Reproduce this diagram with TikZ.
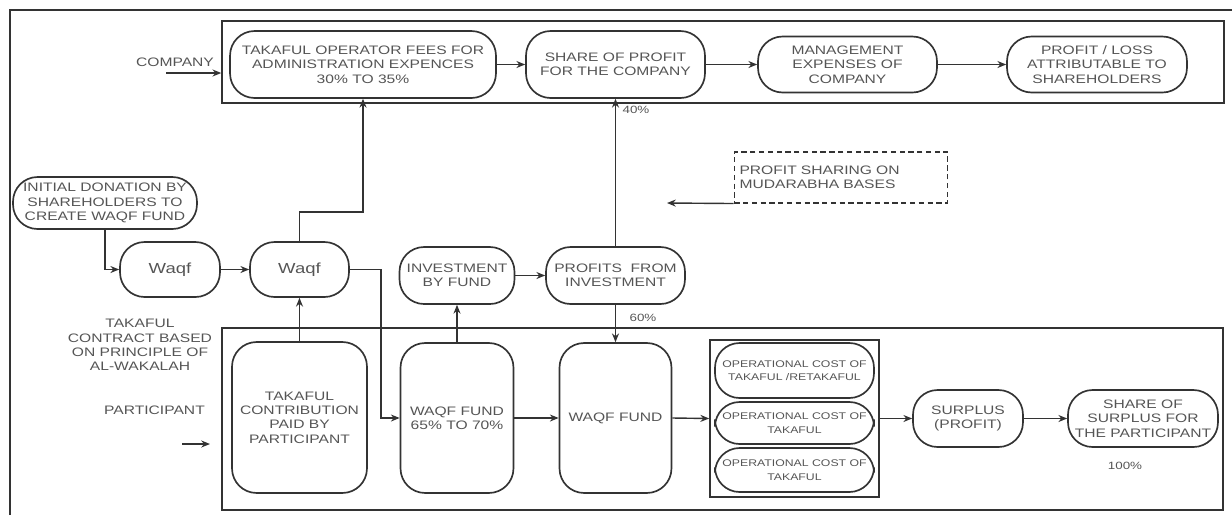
\documentclass[tikz,border=0pt]{standalone}
\usepackage{fontspec}
\setmainfont{Liberation Sans}[FakeStretch=1.27]
\usetikzlibrary{arrows.meta,positioning,calc}
\definecolor{inkgray}{HTML}{333333}
\definecolor{textgray}{HTML}{555555}
\tikzset{
  stage/.style={draw=inkgray, rounded corners=14pt, line width=0.95pt,
    align=center, inner sep=0pt, font=\fontsize{7}{8.2}\selectfont, text=textgray},
  waqf/.style={stage, font=\fontsize{8.3}{9}\selectfont},
  opcost/.style={stage, font=\fontsize{5.5}{7.6}\selectfont},
  panel/.style={draw=inkgray, line width=0.95pt, inner sep=0pt},
  dashbox/.style={draw=inkgray, densely dashed, line width=0.6pt, align=left,
    inner xsep=3pt, font=\fontsize{7}{8.2}\selectfont, text=textgray},
  frame/.style={draw=inkgray, line width=1.3pt},
  flow/.style={-{Stealth[length=5pt,width=4pt]}, line width=0.8pt, color=inkgray},
  note/.style={align=center, font=\fontsize{7}{8.2}\selectfont, text=textgray},
  pct/.style={font=\fontsize{6}{7}\selectfont, text=textgray},
}
\begin{document}
\begin{tikzpicture}[x=0.02cm,y=-0.02cm]
  \useasboundingbox (0,0) rectangle (1232,515);
  \draw[frame] (10,515) -- (10,10) -- (1232,10);

  % company lane
  \node[panel, minimum width=20.04cm, minimum height=1.64cm] (company) at (723,62) {};
  \node[stage, minimum width=5.32cm, minimum height=1.34cm] (fees) at (363,64.5)
    {TAKAFUL OPERATOR FEES FOR\\ADMINISTRATION EXPENCES\\30\% TO 35\%};
  \node[stage, minimum width=3.58cm, minimum height=1.34cm] (share) at (615.5,64.5)
    {SHARE OF PROFIT\\FOR THE COMPANY};
  \node[stage, minimum width=3.58cm, minimum height=1.12cm] (mgmt) at (847.5,64.5)
    {MANAGEMENT\\EXPENSES OF\\COMPANY};
  \node[stage, minimum width=3.6cm, minimum height=1.12cm] (ploss) at (1097,64.5)
    {PROFIT / LOSS\\ATTRIBUTABLE TO\\SHAREHOLDERS};
  \node[note] (lblcompany) at (175,62) {COMPANY};
  \coordinate (cin) at (166,73);

  % middle row
  \node[stage, minimum width=3.68cm, minimum height=1.04cm] (donation) at (105,203)
    {INITIAL DONATION BY\\SHAREHOLDERS TO\\CREATE WAQF FUND};
  \node[waqf, minimum width=2cm, minimum height=1.1cm] (waqfA) at (170,269.5) {Waqf};
  \node[waqf, minimum width=1.98cm, minimum height=1.1cm] (waqfB) at (299.5,269.5) {Waqf};
  \node[stage, minimum width=2.3cm, minimum height=1.14cm] (invest) at (457,275.5)
    {INVESTMENT\\BY FUND};
  \node[stage, minimum width=2.78cm, minimum height=1.14cm] (profits) at (615.5,275.5)
    {PROFITS~~FROM\\INVESTMENT};
  \node[dashbox, text width=4.06cm, minimum height=1.02cm] (mudara) at (841,177.5)
    {PROFIT SHARING ON\\MUDARABHA BASES};
  \coordinate (mudtip) at (667,203);
  \node[pct] (pct40) at (636,110) {40\%};
  \node[pct] (pct60) at (643,318) {60\%};

  % participant lane
  \node[panel, minimum width=20.02cm, minimum height=3.64cm] (participant) at (722.5,419) {};
  \node[note] (lblcontract) at (140,345)
    {TAKAFUL\\CONTRACT BASED\\ON PRINCIPLE OF\\AL-WAKALAH};
  \node[note, anchor=east] (lblparticipant) at (211,410) {PARTICIPANT};
  \coordinate (pin) at (182,444);
  \coordinate (ptip) at (210,444);
  \node[stage, minimum width=2.7cm, minimum height=3.02cm] (contrib) at (299.5,417.5)
    {TAKAFUL\\CONTRIBUTION\\PAID BY\\PARTICIPANT};
  \node[stage, minimum width=2.26cm, minimum height=3cm] (fund65) at (457,418)
    {WAQF FUND\\65\% TO 70\%};
  \node[stage, minimum width=2.24cm, minimum height=3cm] (fund) at (615.5,418)
    {WAQF FUND};
  \node[panel, minimum width=3.38cm, minimum height=3.14cm] (opbox) at (794.5,418.5) {};
  \node[opcost, minimum width=3.18cm, minimum height=1.1cm] (op1) at (794.5,370.5)
    {OPERATIONAL COST OF\\TAKAFUL /RETAKAFUL};
  \node[opcost, minimum width=3.18cm, minimum height=0.84cm] (op2) at (794.5,423)
    {OPERATIONAL COST OF\\TAKAFUL};
  \node[opcost, minimum width=3.18cm, minimum height=0.88cm] (op3) at (794.5,470)
    {OPERATIONAL COST OF\\TAKAFUL};
  \node[stage, minimum width=2.2cm, minimum height=1.14cm] (surplus) at (968,418.5)
    {SURPLUS\\(PROFIT)};
  \node[stage, minimum width=3cm, minimum height=1.14cm] (shareS) at (1143,418.5)
    {SHARE OF\\SURPLUS FOR\\THE PARTICIPANT};
  \node[pct] (pct100) at (1125,466) {100\%};

  % connectors
  \draw[flow] (cin) -- (cin -| company.west);
  \draw[flow] (fees) -- (share);
  \draw[flow] (share.east) -- (mgmt.west);
  \draw[flow] (mgmt.east) -- (ploss.west);
  \draw[flow] (donation.south) |- (waqfA.west);
  \draw[flow] (waqfA) -- (waqfB);
  \draw[flow] (waqfB.north) -- ++(0,-29) -| (fees.south);
  \draw[flow] (contrib.north) -- (waqfB.south);
  \draw[flow] (waqfB.east) -- ++(31,0) |- (fund65.west);
  \draw[flow] (fund65.north) -- (invest.south);
  \draw[flow] (invest) -- (profits);
  \draw[flow] (profits.north) -- (share.south);
  \draw[flow] (profits.south) -- (fund.north);
  \draw[flow] (mudara.south west) -- (mudtip);
  \draw[flow] (pin) -- (ptip);
  \draw[flow] (fund65) -- (fund);
  \draw[flow] (fund.east) -- (opbox.west);
  \draw[flow] (opbox.east) -- (surplus.west);
  \draw[flow] (surplus) -- (shareS);
\end{tikzpicture}
\end{document}
